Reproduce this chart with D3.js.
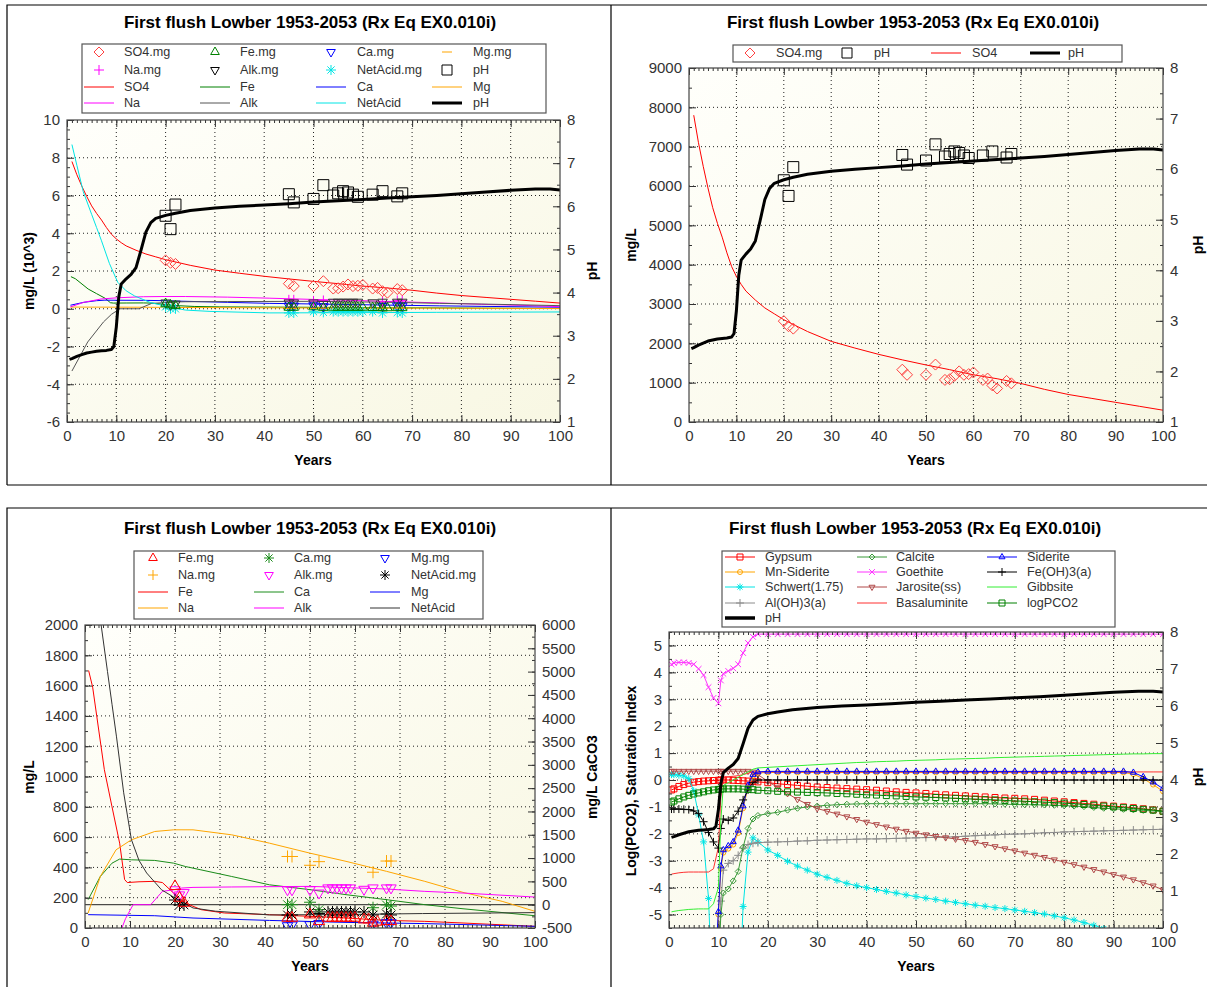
<!DOCTYPE html>
<html>
<head>
<meta charset="utf-8">
<script src="https://cdn.jsdelivr.net/npm/d3@7"></script>
<style>
  body { margin: 0; background: #fff; }
  svg { display: block; }
</style>
</head>
<body>
<div id="chart"></div>
<script>
const titleText = 'First flush Lowber 1953-2053 (Rx Eq EX0.010i)';

// model curves [year, mg/L]  (Alk and NetAcid as mg/L CaCO3)
const so4Model = [[1,7800],[2,7100],[3,6500],[4,5950],[5,5450],[6,5050],[7,4700],[8,4300],[9,3950],[10,3700],[11,3500],[12,3330],[14,3100],[16,2900],[18,2750],[20,2600],[22,2480],[25,2300],[30,2050],[35,1880],[40,1720],[45,1580],[50,1450],[55,1330],[60,1200],[65,1100],[70,980],[75,830],[80,700],[85,600],[90,500],[95,400],[100,300]];
const feModel = [[0.8,1700],[1.7,1590],[4.3,1045],[6,800],[7.7,560],[8.8,320],[9.4,300],[12,305],[15.5,308],[17.2,300],[19.7,230],[22.3,165],[25.8,121],[31,99],[41,88],[50,77],[58,66],[67,50],[75.5,44],[84,33],[100,11]];
const caModel = [[0.7,187],[3.4,340],[6,428],[7.7,455],[10.3,450],[15.5,446],[19.7,428],[22.3,406],[32.6,340],[41,285],[50,253],[58,220],[67,187],[75.5,154],[84,127],[100,81]];
const mgModel = [[0.7,88],[15.5,81],[24,66],[41,50],[58,37],[75.5,29],[100,11]];
const naModel = [[0.7,99],[3.4,340],[6.9,516],[10.3,582],[15.5,637],[19.7,648],[24,648],[32.6,615],[41,560],[50,494],[58,440],[67,374],[75.5,308],[84,235],[92.7,176],[100,110]];
const alkModel = [[1,-3300],[4.2,-1760],[7.4,-700],[9,-300],[10.7,0],[14.6,0],[17.2,286],[19.7,321],[21.5,357],[24,371],[32.6,380],[50,393],[67,336],[75.5,286],[84,250],[100,164]];
const netAcidModel = [[1,8700],[2,7600],[3.3,6200],[5,5000],[6,4300],[7,3600],[8.6,2400],[10.3,1400],[12,950],[13.7,680],[17,320],[20.6,110],[24,-70],[29,-140],[41,-220],[58,-210],[75,-190],[100,-170]];
const phModel = [[0.5,2.45],[1,2.47],[2,2.52],[3,2.56],[4,2.6],[5,2.62],[6,2.64],[7,2.65],[8,2.66],[9,2.68],[9.5,2.75],[10,3.2],[10.5,3.9],[11,4.2],[12,4.32],[13,4.42],[14,4.58],[15,4.98],[16,5.4],[17,5.62],[18,5.72],[20,5.79],[22,5.84],[25,5.9],[30,5.96],[35,6.0],[40,6.03],[45,6.06],[50,6.1],[55,6.13],[60,6.16],[65,6.19],[70,6.22],[75,6.25],[80,6.29],[85,6.33],[90,6.37],[95,6.4],[98,6.4],[100,6.38]];

// observations [year, value]
const so4Obs = [[20,2565],[21,2435],[22,2374],[45,1330],[46,1200],[50,1200],[52,1460],[54,1070],[55,1087],[56,1174],[57,1287],[58,1200],[59,1217],[60,1260],[62,1070],[63,1104],[64,930],[65,852],[67,1043],[68,983]];
const phObs = [[20,5.78],[21,5.47],[22,6.04],[45,6.28],[46,6.09],[50,6.17],[52,6.49],[54,6.25],[55,6.3],[56,6.35],[57,6.32],[58,6.27],[59,6.22],[62,6.27],[64,6.35],[67,6.23],[68,6.3]];
const feObs = [[20,275],[21,198],[22,165],[45,66],[46,66],[50,88],[52,44],[54,66],[55,66],[56,66],[57,66],[58,66],[59,66],[60,66],[62,55],[63,55],[64,33],[65,40],[67,44],[68,44]];
const caObs = [[45,154],[46,154],[50,170],[52,121],[64,134],[67,152],[68,145]];
const mgObs = [[45,15],[46,20],[50,22],[52,30],[64,25],[67,35],[68,35]];
const naObs = [[45,472],[46,472],[50,414],[52,438],[64,368],[67,442],[68,442]];
const alkObs = [[20,320],[21,210],[22,260],[45,320],[46,320],[50,320],[52,250],[54,360],[55,360],[56,360],[57,360],[58,360],[59,360],[62,330],[64,360],[67,360],[68,360]];
const netAcidObs = [[20,100],[21,-6],[22,-6],[45,-221],[46,-221],[50,-156],[52,-190],[54,-156],[55,-156],[56,-156],[57,-156],[58,-156],[59,-156],[60,-156],[62,-156],[64,-221],[67,-200],[68,-221]];

// saturation indices, one value per entry of siYears (null = off chart)
const siYears = [0.5,1,2,3,4,5,6,7,8,9,10,10.5,11,12,13,14,15,16,17,18,20,22,24,26,28,30,32,34,36,38,40,42,44,46,48,50,52,54,56,58,60,62,64,66,68,70,72,74,76,78,80,82,84,86,88,90,92,94,96,98,100];
const gypsumSI = [-0.37,-0.33,-0.24,-0.17,-0.12,-0.08,-0.06,-0.04,-0.03,-0.02,-0.01,0,0,0,-0.01,-0.02,-0.03,-0.04,-0.05,-0.07,-0.1,-0.14,-0.17,-0.2,-0.23,-0.26,-0.28,-0.3,-0.32,-0.34,-0.36,-0.38,-0.41,-0.44,-0.46,-0.48,-0.5,-0.53,-0.55,-0.57,-0.59,-0.61,-0.63,-0.65,-0.67,-0.68,-0.7,-0.72,-0.75,-0.78,-0.81,-0.84,-0.87,-0.9,-0.94,-0.97,-1.0,-1.03,-1.07,-1.11,-1.16];
const mnSideriteSI = [null,null,null,null,null,null,null,null,null,-8.1,-5.0,-3.3,-2.7,-2.55,-2.4,-1.97,-1.05,-0.28,0.15,0.26,0.28,0.28,0.28,0.28,0.28,0.28,0.28,0.28,0.28,0.28,0.28,0.28,0.28,0.28,0.28,0.28,0.28,0.28,0.28,0.28,0.28,0.28,0.28,0.28,0.28,0.28,0.28,0.28,0.28,0.28,0.28,0.28,0.28,0.28,0.28,0.28,0.28,0.22,0.05,-0.17,-0.42];
const schwertSI = [0.2,0.2,0.18,0.15,0.05,-0.4,-1.3,-2.3,-4.4,-9,null,null,null,null,null,-9,-4.7,-2.68,-2.15,-2.3,-2.6,-2.8,-3.02,-3.2,-3.35,-3.5,-3.62,-3.73,-3.84,-3.93,-4.0,-4.07,-4.14,-4.2,-4.27,-4.33,-4.39,-4.44,-4.5,-4.55,-4.6,-4.65,-4.69,-4.74,-4.78,-4.83,-4.88,-4.93,-4.98,-5.05,-5.12,-5.2,-5.3,-5.4,-5.52,-5.65,-5.8,-5.95,-6.1,-6.25,-6.4];
const alOH3SI = [null,null,null,null,null,null,null,null,null,null,-7,-4.5,-3.35,-3.1,-3.0,-2.8,-2.53,-2.4,-2.35,-2.33,-2.31,-2.3,-2.29,-2.27,-2.26,-2.24,-2.23,-2.22,-2.21,-2.2,-2.19,-2.19,-2.18,-2.17,-2.16,-2.15,-2.14,-2.13,-2.12,-2.11,-2.09,-2.07,-2.05,-2.04,-2.02,-2.01,-2.0,-1.98,-1.96,-1.95,-1.93,-1.92,-1.91,-1.9,-1.89,-1.88,-1.87,-1.86,-1.85,-1.84,-1.83];
const calciteSI = [null,null,null,null,null,null,null,null,null,null,-7,-5.0,-4.2,-4.05,-3.75,-3.4,-2.5,-1.8,-1.45,-1.32,-1.25,-1.2,-1.12,-1.05,-1.0,-0.97,-0.94,-0.92,-0.9,-0.89,-0.88,-0.88,-0.88,-0.88,-0.88,-0.88,-0.88,-0.88,-0.88,-0.88,-0.88,-0.88,-0.88,-0.89,-0.9,-0.91,-0.92,-0.92,-0.93,-0.94,-0.95,-0.97,-0.99,-1.02,-1.05,-1.07,-1.09,-1.11,-1.13,-1.15,-1.17];
const goethiteSI = [4.3,4.35,4.37,4.37,4.35,4.3,4.13,3.9,3.45,3.05,2.85,3.7,3.95,4.05,4.15,4.3,4.72,5.09,5.32,5.42,5.42,5.42,5.42,5.42,5.42,5.42,5.42,5.42,5.42,5.42,5.42,5.42,5.42,5.42,5.42,5.42,5.42,5.42,5.42,5.42,5.42,5.42,5.42,5.42,5.42,5.42,5.42,5.42,5.42,5.42,5.42,5.42,5.42,5.42,5.42,5.42,5.42,5.42,5.42,5.42,5.42];
const jarositeSI = [0.33,0.33,0.33,0.33,0.33,0.33,0.33,0.33,0.33,0.33,0.33,0.33,0.33,0.33,0.33,0.33,0.33,0.33,0.3,0.2,-0.05,-0.28,-0.5,-0.72,-0.9,-1.06,-1.16,-1.26,-1.36,-1.46,-1.56,-1.65,-1.74,-1.82,-1.9,-1.97,-2.03,-2.09,-2.14,-2.19,-2.24,-2.31,-2.39,-2.47,-2.55,-2.63,-2.71,-2.79,-2.87,-2.96,-3.05,-3.14,-3.23,-3.32,-3.41,-3.51,-3.6,-3.7,-3.81,-3.93,-4.08];
const basaluminiteSI = [-3.5,-3.48,-3.45,-3.43,-3.42,-3.42,-3.42,-3.42,-3.42,-3.3,-2.5,-0.6,0.1,0.12,0.14,0.16,0.2,0.25,0.3,0.3,0.3,0.3,0.3,0.3,0.3,0.3,0.3,0.3,0.3,0.3,0.3,0.3,0.3,0.3,0.3,0.3,0.3,0.3,0.3,0.3,0.3,0.3,0.3,0.3,0.3,0.3,0.3,0.3,0.3,0.3,0.3,0.3,0.3,0.3,0.3,0.3,0.3,0.3,0.3,0.3,0.3];
const sideriteSI = [null,null,null,null,null,null,null,null,null,-8,-4.9,-3.2,-2.6,-2.45,-2.3,-1.87,-0.97,-0.2,0.2,0.3,0.32,0.32,0.32,0.32,0.32,0.32,0.32,0.32,0.32,0.32,0.32,0.32,0.32,0.32,0.32,0.32,0.32,0.32,0.32,0.32,0.32,0.32,0.32,0.32,0.32,0.32,0.32,0.32,0.32,0.32,0.32,0.32,0.32,0.32,0.32,0.32,0.32,0.28,0.12,-0.08,-0.32];
const feOH3SI = [-1.08,-1.08,-1.08,-1.09,-1.1,-1.15,-1.25,-1.55,-1.95,-2.3,-2.53,-1.8,-1.45,-1.5,-1.41,-1.16,-0.74,-0.37,-0.1,0,0,0,0,0,0,0,0,0,0,0,0,0,0,0,0,0,0,0,0,0,0,0,0,0,0,0,0,0,0,0,0,0,0,0,0,0,0,0,0,0,0];
const gibbsiteSI = [-4.9,-4.88,-4.85,-4.83,-4.81,-4.8,-4.79,-4.79,-4.79,-4.6,-4.0,-1.5,-0.2,-0.1,0.0,0.1,0.2,0.3,0.4,0.45,0.47,0.49,0.51,0.53,0.55,0.57,0.59,0.61,0.63,0.65,0.66,0.68,0.69,0.7,0.72,0.73,0.74,0.75,0.77,0.78,0.79,0.8,0.81,0.83,0.84,0.85,0.86,0.87,0.88,0.89,0.9,0.91,0.92,0.93,0.94,0.95,0.96,0.97,0.97,0.98,0.98];
const logPCO2 = [-0.82,-0.78,-0.7,-0.63,-0.57,-0.52,-0.48,-0.44,-0.4,-0.37,-0.35,-0.34,-0.33,-0.33,-0.33,-0.33,-0.34,-0.35,-0.36,-0.38,-0.4,-0.42,-0.44,-0.45,-0.46,-0.47,-0.48,-0.5,-0.51,-0.53,-0.55,-0.56,-0.58,-0.59,-0.61,-0.63,-0.64,-0.65,-0.67,-0.68,-0.7,-0.71,-0.73,-0.74,-0.76,-0.78,-0.79,-0.81,-0.82,-0.84,-0.86,-0.88,-0.91,-0.94,-0.97,-1.0,-1.03,-1.06,-1.09,-1.12,-1.16];

const FONT = '"Liberation Sans", Arial, Helvetica, sans-serif';
const W = 1207, H = 987;

const svg = d3.select('#chart').append('svg')
    .attr('width', W).attr('height', H)
    .attr('font-family', FONT);
const defs = svg.append('defs');

const bg = defs.append('linearGradient').attr('id', 'plot-bg')
    .attr('x1', 0).attr('y1', 0).attr('x2', 1).attr('y2', 1);
bg.append('stop').attr('offset', 0).attr('stop-color', '#fffffb');
bg.append('stop').attr('offset', 1).attr('stop-color', '#f8f7e3');

// page frames
svg.append('path')
    .attr('d', 'M7,485V5H1207M611,5V485M7,485H1207M7,987V508H1207M611,508V987')
    .attr('fill', 'none').attr('stroke', '#000').attr('stroke-width', 1.2);

function markerPath(type, s) {
    const t = s * 0.866, k = s * 0.72;
    switch (type) {
        case 'square': return `M${-s},${-s}H${s}V${s}H${-s}Z`;
        case 'diamond': return `M0,${-s}L${s},0L0,${s}L${-s},0Z`;
        case 'triUp': return `M0,${-s}L${t},${s * 0.5}L${-t},${s * 0.5}Z`;
        case 'triDown': return `M0,${s}L${t},${-s * 0.5}L${-t},${-s * 0.5}Z`;
        case 'plus': return `M${-s},0H${s}M0,${-s}V${s}`;
        case 'x': return `M${-k},${-k}L${k},${k}M${-k},${k}L${k},${-k}`;
        case 'asterisk': return `M${-s},0H${s}M0,${-s}V${s}M${-k},${-k}L${k},${k}M${-k},${k}L${k},${-k}`;
        case 'circle': return `M${s},0A${s},${s} 0 1,1 ${-s},0A${s},${s} 0 1,1 ${s},0`;
        case 'dash': return `M${-s},0H${s}`;
    }
    return '';
}

const zip = (xs, vs) => xs.map((t, i) => [t, vs[i]]);
const fmt = d => String(d);

function makePanel(o) {
    const g = svg.append('g');
    const x = d3.scaleLinear().domain([0, 100]).range([o.left, o.right]);
    const y = d3.scaleLinear().domain(o.yDomain).range([o.bottom, o.top]);
    const y2 = d3.scaleLinear().domain(o.y2Domain).range([o.bottom, o.top]);

    g.append('rect')
        .attr('x', o.left).attr('y', o.top)
        .attr('width', o.right - o.left).attr('height', o.bottom - o.top)
        .attr('fill', 'url(#plot-bg)');

    // dotted grid on major ticks
    const grid = g.append('g')
        .attr('stroke', '#222').attr('stroke-width', 1).attr('stroke-dasharray', '1,3');
    grid.selectAll(null).data(d3.range(10, 100, 10)).join('line')
        .attr('x1', d => x(d)).attr('x2', d => x(d))
        .attr('y1', o.top).attr('y2', o.bottom);
    grid.selectAll(null).data(o.yTicks.filter(v => v > o.yDomain[0] && v < o.yDomain[1])).join('line')
        .attr('x1', o.left).attr('x2', o.right)
        .attr('y1', d => y(d)).attr('y2', d => y(d));

    defs.append('clipPath').attr('id', o.id + '-clip')
        .append('rect')
        .attr('x', o.left).attr('y', o.top)
        .attr('width', o.right - o.left).attr('height', o.bottom - o.top);
    const plot = g.append('g').attr('clip-path', `url(#${o.id}-clip)`);

    // title
    g.append('text')
        .attr('x', o.titleX).attr('y', o.titleY)
        .attr('text-anchor', 'middle')
        .attr('font-size', 17).attr('font-weight', 'bold').attr('fill', '#000')
        .text(titleText);

    return { g, x, y, y2, plot, o };
}

function styleAxis(sel) {
    sel.attr('font-family', FONT).attr('font-size', 15);
    sel.select('.domain').remove();
    sel.selectAll('.tick line').attr('stroke', '#333');
    sel.selectAll('.tick text').attr('fill', '#333');
}

function finishPanel(p) {
    const { g, x, y, y2, o } = p;
    const xMinor = d3.range(0, 101, 1);

    g.append('g').attr('transform', `translate(0,${o.bottom})`)
        .call(d3.axisBottom(x).tickValues(xMinor).tickSize(-3).tickFormat(''))
        .call(styleAxis);
    g.append('g').attr('transform', `translate(0,${o.bottom})`)
        .call(d3.axisBottom(x).tickValues(d3.range(0, 101, 10)).tickSizeInner(-7).tickSizeOuter(0).tickPadding(8).tickFormat(fmt))
        .call(styleAxis);
    g.append('g').attr('transform', `translate(0,${o.top})`)
        .call(d3.axisTop(x).tickValues(xMinor).tickSize(-3).tickFormat(''))
        .call(styleAxis);
    g.append('g').attr('transform', `translate(0,${o.top})`)
        .call(d3.axisTop(x).tickValues(d3.range(0, 101, 10)).tickSize(-7).tickFormat(''))
        .call(styleAxis);

    g.append('g').attr('transform', `translate(${o.left},0)`)
        .call(d3.axisLeft(y).tickValues(o.yMinor).tickSize(-3).tickFormat(''))
        .call(styleAxis);
    g.append('g').attr('transform', `translate(${o.left},0)`)
        .call(d3.axisLeft(y).tickValues(o.yTicks).tickSizeInner(-7).tickSizeOuter(0).tickPadding(7).tickFormat(fmt))
        .call(styleAxis);
    g.append('g').attr('transform', `translate(${o.right},0)`)
        .call(d3.axisRight(y2).tickValues(o.y2Minor).tickSize(-3).tickFormat(''))
        .call(styleAxis);
    g.append('g').attr('transform', `translate(${o.right},0)`)
        .call(d3.axisRight(y2).tickValues(o.y2Ticks).tickSizeInner(-7).tickSizeOuter(0).tickPadding(7).tickFormat(fmt))
        .call(styleAxis);

    g.append('rect')
        .attr('x', o.left).attr('y', o.top)
        .attr('width', o.right - o.left).attr('height', o.bottom - o.top)
        .attr('fill', 'none').attr('stroke', '#444').attr('stroke-width', 1.2);

    const axisTitle = (tx, ty, text, rotate) => g.append('text')
        .attr('transform', `translate(${tx},${ty})` + (rotate ? ' rotate(-90)' : ''))
        .attr('text-anchor', 'middle').attr('dy', '0.35em')
        .attr('font-size', 14).attr('font-weight', 'bold').attr('fill', '#000')
        .text(text);
    axisTitle(o.yTitlePos[0], o.yTitlePos[1], o.yTitle, true);
    axisTitle(o.y2TitlePos[0], o.y2TitlePos[1], o.y2Title, true);
    axisTitle(o.xTitlePos[0], o.xTitlePos[1], 'Years', false);
}

function drawLine(p, pts, color, width, yScale) {
    const line = d3.line()
        .defined(d => d[1] != null)
        .x(d => p.x(d[0])).y(d => yScale(d[1]));
    p.plot.append('path').datum(pts)
        .attr('d', line)
        .attr('fill', 'none').attr('stroke', color).attr('stroke-width', width)
        .attr('stroke-linejoin', 'round');
}

function drawMarkers(p, pts, type, color, size, yScale) {
    p.plot.append('g').selectAll('path')
        .data(pts.filter(d => d[1] != null))
        .join('path')
        .attr('transform', d => `translate(${p.x(d[0])},${yScale(d[1])})`)
        .attr('d', markerPath(type, size))
        .attr('fill', 'none').attr('stroke', color).attr('stroke-width', 1);
}

function drawLegend(box, rows, colSym, colText, entries, fontSize) {
    const lg = svg.append('g');
    lg.append('rect')
        .attr('x', box[0]).attr('y', box[1])
        .attr('width', box[2] - box[0]).attr('height', box[3] - box[1])
        .attr('fill', '#fff').attr('stroke', '#555').attr('stroke-width', 1.2);
    entries.forEach((e, i) => {
        const r = e.row != null ? e.row : Math.floor(i / colSym.length);
        const c = e.col != null ? e.col : i % colSym.length;
        const cx = colSym[c], cy = rows[r];
        if (e.line) {
            lg.append('line')
                .attr('x1', cx - 15).attr('x2', cx + 15).attr('y1', cy).attr('y2', cy)
                .attr('stroke', e.color).attr('stroke-width', e.width || 1);
        }
        if (e.marker) {
            lg.append('path')
                .attr('transform', `translate(${cx},${cy})`)
                .attr('d', markerPath(e.marker, e.size || 5))
                .attr('fill', 'none').attr('stroke', e.mcolor || e.color).attr('stroke-width', 1);
        }
        lg.append('text')
            .attr('x', colText[c]).attr('y', cy).attr('dy', '0.35em')
            .attr('font-size', fontSize).attr('fill', '#333')
            .text(e.label);
    });
}

const k1000 = pts => pts.map(([t, v]) => [t, v / 1000]);

// ---------- panel 1: all species, 10^3 mg/L ----------
const p1 = makePanel({
    id: 'p1', left: 67, right: 560, top: 120, bottom: 422,
    yDomain: [-6, 10], yTicks: d3.range(-6, 11, 2), yMinor: d3.range(-6, 10.01, 0.5),
    y2Domain: [1, 8], y2Ticks: d3.range(1, 9, 1), y2Minor: d3.range(1, 8.01, 0.5),
    titleX: 310, titleY: 28,
    yTitle: 'mg/L (10^3)', yTitlePos: [29, 271],
    y2Title: 'pH', y2TitlePos: [592, 271],
    xTitlePos: [313, 460]
});
drawLine(p1, k1000(so4Model), '#ff0000', 1, p1.y);
drawLine(p1, k1000(feModel), '#008000', 1, p1.y);
drawLine(p1, k1000(caModel), '#0000ff', 1, p1.y);
drawLine(p1, k1000(mgModel), '#ffa500', 1, p1.y);
drawLine(p1, k1000(naModel), '#ff00ff', 1, p1.y);
drawLine(p1, k1000(alkModel), '#555555', 1, p1.y);
drawLine(p1, k1000(netAcidModel), '#00e5e5', 1, p1.y);
drawMarkers(p1, k1000(netAcidObs), 'asterisk', '#00e5e5', 5, p1.y);
drawMarkers(p1, k1000(naObs), 'plus', '#ff00ff', 5, p1.y);
drawMarkers(p1, k1000(alkObs), 'triDown', '#333', 5.5, p1.y);
drawMarkers(p1, k1000(caObs), 'triDown', '#0000ff', 5.5, p1.y);
drawMarkers(p1, k1000(mgObs), 'dash', '#ffa500', 5, p1.y);
drawMarkers(p1, k1000(feObs), 'triUp', '#008000', 5.5, p1.y);
drawMarkers(p1, k1000(so4Obs), 'diamond', '#ff4040', 5.5, p1.y);
drawLine(p1, phModel, '#000', 3, p1.y2);
drawMarkers(p1, phObs, 'square', '#000', 5.5, p1.y2);
finishPanel(p1);
drawLegend([82, 44, 546, 113], [52, 70, 87, 103], [99, 215, 331, 447], [124, 240, 357, 473], [
    { label: 'SO4.mg', marker: 'diamond', color: '#ff4040' },
    { label: 'Fe.mg', marker: 'triUp', color: '#008000' },
    { label: 'Ca.mg', marker: 'triDown', color: '#0000ff' },
    { label: 'Mg.mg', marker: 'dash', color: '#ffa500' },
    { label: 'Na.mg', marker: 'plus', color: '#ff00ff' },
    { label: 'Alk.mg', marker: 'triDown', color: '#000' },
    { label: 'NetAcid.mg', marker: 'asterisk', color: '#00e5e5' },
    { label: 'pH', marker: 'square', color: '#000' },
    { label: 'SO4', line: true, color: '#ff0000' },
    { label: 'Fe', line: true, color: '#008000' },
    { label: 'Ca', line: true, color: '#0000ff' },
    { label: 'Mg', line: true, color: '#ffa500' },
    { label: 'Na', line: true, color: '#ff00ff' },
    { label: 'Alk', line: true, color: '#555555' },
    { label: 'NetAcid', line: true, color: '#00e5e5' },
    { label: 'pH', line: true, color: '#000', width: 3 }
], 12.6);

// ---------- panel 2: SO4 and pH ----------
const p2 = makePanel({
    id: 'p2', left: 689, right: 1163, top: 68, bottom: 422,
    yDomain: [0, 9000], yTicks: d3.range(0, 9001, 1000), yMinor: d3.range(0, 9001, 500),
    y2Domain: [1, 8], y2Ticks: d3.range(1, 9, 1), y2Minor: d3.range(1, 8.01, 0.5),
    titleX: 913, titleY: 28,
    yTitle: 'mg/L', yTitlePos: [631, 245],
    y2Title: 'pH', y2TitlePos: [1198, 245],
    xTitlePos: [926, 460]
});
drawLine(p2, so4Model, '#ff0000', 1, p2.y);
drawMarkers(p2, so4Obs, 'diamond', '#ff4040', 5.5, p2.y);
drawLine(p2, phModel, '#000', 3, p2.y2);
drawMarkers(p2, phObs, 'square', '#000', 5.5, p2.y2);
finishPanel(p2);
drawLegend([733, 45, 1122, 62], [53], [750, 847, 946, 1045], [776, 874, 972, 1068], [
    { label: 'SO4.mg', marker: 'diamond', color: '#ff4040' },
    { label: 'pH', marker: 'square', color: '#000' },
    { label: 'SO4', line: true, color: '#ff0000' },
    { label: 'pH', line: true, color: '#000', width: 3 }
], 12.6);

// ---------- panel 3: metals (mg/L) and acidity (mg/L CaCO3) ----------
const p3 = makePanel({
    id: 'p3', left: 85, right: 535, top: 625, bottom: 928,
    yDomain: [0, 2000], yTicks: d3.range(0, 2001, 200), yMinor: d3.range(0, 2001, 100),
    y2Domain: [-500, 6000], y2Ticks: d3.range(-500, 6001, 500), y2Minor: d3.range(-500, 6001, 250),
    titleX: 310, titleY: 534,
    yTitle: 'mg/L', yTitlePos: [29, 777],
    y2Title: 'mg/L CaCO3', y2TitlePos: [592, 777],
    xTitlePos: [310, 966]
});
p3.plot.append('line')
    .attr('x1', p3.x(0)).attr('x2', p3.x(100))
    .attr('y1', p3.y2(0)).attr('y2', p3.y2(0))
    .attr('stroke', '#222').attr('stroke-width', 1);
drawLine(p3, feModel, '#ff0000', 1, p3.y);
drawLine(p3, caModel, '#1a8c1a', 1, p3.y);
drawLine(p3, mgModel, '#0000ff', 1, p3.y);
drawLine(p3, naModel, '#ffa500', 1, p3.y);
drawLine(p3, alkModel, '#ff00ff', 1, p3.y2);
drawLine(p3, netAcidModel, '#333', 1, p3.y2);
drawMarkers(p3, naObs, 'plus', '#ffa500', 6, p3.y);
drawMarkers(p3, alkObs, 'triDown', '#ff00ff', 6, p3.y2);
drawMarkers(p3, caObs, 'asterisk', '#1a8c1a', 6, p3.y);
drawMarkers(p3, netAcidObs, 'asterisk', '#000', 6, p3.y2);
drawMarkers(p3, mgObs, 'triDown', '#0000ff', 6, p3.y);
drawMarkers(p3, feObs, 'triUp', '#ff0000', 6.5, p3.y);
finishPanel(p3);
drawLegend([134, 551, 483, 619], [558, 575, 592, 608], [153, 269, 385], [178, 294, 411], [
    { label: 'Fe.mg', marker: 'triUp', color: '#ff0000' },
    { label: 'Ca.mg', marker: 'asterisk', color: '#1a8c1a' },
    { label: 'Mg.mg', marker: 'triDown', color: '#0000ff' },
    { label: 'Na.mg', marker: 'plus', color: '#ffa500' },
    { label: 'Alk.mg', marker: 'triDown', color: '#ff00ff' },
    { label: 'NetAcid.mg', marker: 'asterisk', color: '#000' },
    { label: 'Fe', line: true, color: '#ff0000' },
    { label: 'Ca', line: true, color: '#1a8c1a' },
    { label: 'Mg', line: true, color: '#0000ff' },
    { label: 'Na', line: true, color: '#ffa500' },
    { label: 'Alk', line: true, color: '#ff00ff' },
    { label: 'NetAcid', line: true, color: '#333' }
], 12.6);

// ---------- panel 4: saturation indices ----------
const p4 = makePanel({
    id: 'p4', left: 669, right: 1163, top: 632, bottom: 928,
    yDomain: [-5.5, 5.5], yTicks: d3.range(-5, 6, 1), yMinor: d3.range(-5.5, 5.51, 0.5),
    y2Domain: [0, 8], y2Ticks: d3.range(0, 9, 1), y2Minor: d3.range(0, 8.01, 0.5),
    titleX: 915, titleY: 534,
    yTitle: 'Log(PCO2), Saturation Index', yTitlePos: [631, 781],
    y2Title: 'pH', y2TitlePos: [1198, 777],
    xTitlePos: [916, 966]
});
const siSeries = [
    { label: 'Gypsum', vals: gypsumSI, color: '#ff0000', marker: 'square', size: 3 },
    { label: 'Mn-Siderite', vals: mnSideriteSI, color: '#ffa500', marker: 'circle', size: 2.5 },
    { label: 'Schwert(1.75)', vals: schwertSI, color: '#00e5e5', marker: 'asterisk', size: 3.5 },
    { label: 'Al(OH)3(a)', vals: alOH3SI, color: '#8c8c8c', marker: 'plus', size: 4 },
    { label: 'Calcite', vals: calciteSI, color: '#3a9a3a', marker: 'diamond', size: 3 },
    { label: 'Goethite', vals: goethiteSI, color: '#ff33ff', marker: 'x', size: 4 },
    { label: 'Jarosite(ss)', vals: jarositeSI, color: '#b04848', marker: 'triDown', size: 3.5 },
    { label: 'Basaluminite', vals: basaluminiteSI, color: '#ff3030', marker: null },
    { label: 'Siderite', vals: sideriteSI, color: '#0000ff', marker: 'triUp', size: 3.5 },
    { label: 'Fe(OH)3(a)', vals: feOH3SI, color: '#000000', marker: 'plus', size: 4 },
    { label: 'Gibbsite', vals: gibbsiteSI, color: '#33ee33', marker: null },
    { label: 'logPCO2', vals: logPCO2, color: '#008000', marker: 'square', size: 3 }
];
siSeries.forEach(s => {
    const pts = zip(siYears, s.vals);
    drawLine(p4, pts, s.color, 1, p4.y);
    if (s.marker) drawMarkers(p4, pts, s.marker, s.color, s.size, p4.y);
});
drawLine(p4, phModel, '#000', 3, p4.y2);
finishPanel(p4);
const bySi = l => siSeries.find(s => s.label === l);
const siLegend = ['Gypsum', 'Calcite', 'Siderite', 'Mn-Siderite', 'Goethite', 'Fe(OH)3(a)',
    'Schwert(1.75)', 'Jarosite(ss)', 'Gibbsite', 'Al(OH)3(a)', 'Basaluminite', 'logPCO2']
    .map(l => { const s = bySi(l); return { label: l, line: true, color: s.color, marker: s.marker, size: s.size }; });
siLegend.push({ label: 'pH', line: true, color: '#000', width: 3.5 });
drawLegend([722, 551, 1115, 627], [557, 572, 587, 603, 618], [740, 872, 1002], [765, 896, 1027], siLegend, 12.6);
</script>
</body>
</html>
